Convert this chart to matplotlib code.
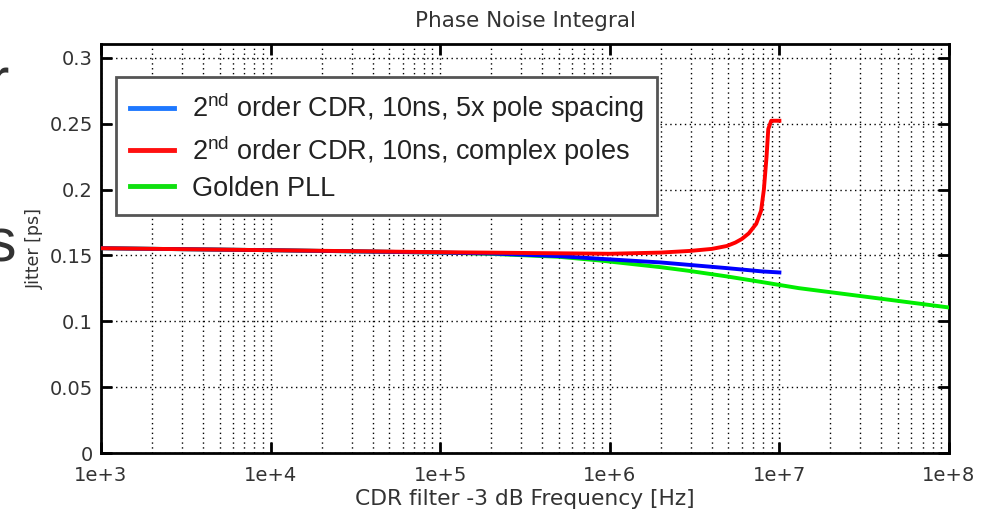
import matplotlib
matplotlib.use("Agg")
import matplotlib.pyplot as plt
from matplotlib.lines import Line2D
from matplotlib.ticker import FixedLocator, LogLocator, NullFormatter

plt.rcParams['mathtext.fontset'] = 'custom'
plt.rcParams['mathtext.rm'] = 'Liberation Sans'
plt.rcParams['mathtext.it'] = 'Liberation Sans'

# data
freq_blue = [1e3, 1e4, 1e5, 2e5, 5e5, 8.7e5, 2e6, 4.9e6, 7.9e6, 1e7]
jit_blue = [0.1555, 0.1540, 0.1522, 0.1515, 0.1495, 0.1475, 0.1447, 0.1404, 0.1379, 0.1371]

freq_red = [1e3, 1e4, 1e5, 1e6, 2e6, 3e6, 4e6, 4.9e6, 5.5e6, 6e6, 6.6e6, 7.3e6, 7.8e6,
            8.1e6, 8.4e6, 8.6e6, 8.95e6, 1e7]
jit_red = [0.1555, 0.1540, 0.1525, 0.1513, 0.1522, 0.1535, 0.1550, 0.1572, 0.1598,
           0.1625, 0.1668, 0.1740, 0.1840, 0.2000, 0.2250, 0.2460, 0.2523, 0.2523]

freq_green = [1e3, 1e4, 1e5, 2e5, 5e5, 8.7e5, 2e6, 2.9e6, 4.9e6, 7.9e6, 1.3e7, 3e7, 1e8]
jit_green = [0.1555, 0.1540, 0.1522, 0.1512, 0.1490, 0.1462, 0.1411, 0.1384, 0.1341,
             0.1298, 0.1252, 0.1192, 0.1105]

labels = ['2$^{\\rm nd}$ order CDR, 10ns, 5x pole spacing',
          '2$^{\\rm nd}$ order CDR, 10ns, complex poles',
          'Golden PLL']
y_ticks = [0, 0.05, 0.1, 0.15, 0.2, 0.25, 0.3]
y_ticklabels = ['0', '0.05', '0.1', '0.15', '0.2', '0.25', '0.3']
x_ticks = [1e3, 1e4, 1e5, 1e6, 1e7, 1e8]
x_ticklabels = ['1e+3', '1e+4', '1e+5', '1e+6', '1e+7', '1e+8']

fig = plt.figure(figsize=(9.96, 5.09), dpi=100)
ax = fig.add_axes([0.1014, 0.110, 0.8514, 0.8036])

ax.plot(freq_green, jit_green, color='#00ee00', lw=2.8, zorder=3)
ax.plot(freq_blue, jit_blue, color='#0000ff', lw=2.8, zorder=4)
ax.plot(freq_red, jit_red, color='#ff0000', lw=2.8, zorder=5)

ax.set_xscale('log')
ax.set_xlim(1e3, 1e8)
ax.set_ylim(0, 0.3106)
ax.xaxis.set_major_locator(FixedLocator(x_ticks))
ax.set_xticklabels(x_ticklabels)
ax.xaxis.set_minor_locator(LogLocator(base=10, subs=range(2, 10)))
ax.xaxis.set_minor_formatter(NullFormatter())
ax.set_yticks(y_ticks)
ax.set_yticklabels(y_ticklabels)

dots = (0, (1, 2.5))
ax.grid(True, which='major', axis='both', color='black', linestyle=dots, lw=1.0)
ax.grid(True, which='minor', axis='x', color='black', linestyle=dots, lw=1.0)

ax.tick_params(which='major', direction='in', length=8, width=2,
               top=True, right=True, labelsize=14, labelcolor='#333333')
ax.tick_params(axis='x', pad=9)
ax.tick_params(axis='y', pad=6)
ax.tick_params(which='minor', length=0)
for sp in ax.spines.values():
    sp.set_linewidth(2)

ax.set_title('Phase Noise Integral', fontsize=15.5, color='#333333', pad=12)
ax.set_xlabel('CDR filter -3 dB Frequency [Hz]', fontsize=15.7, color='#333333', labelpad=3)
ax.set_ylabel('Jitter [ps]', fontsize=12.5, color='#333333', labelpad=4)

handles = [Line2D([], [], color='#1e78ff', lw=3.5),
           Line2D([], [], color='#ff1010', lw=3.5),
           Line2D([], [], color='#10e010', lw=3.5)]
leg = ax.legend(handles, labels, loc='upper left', bbox_to_anchor=(0.0177, 0.919),
                borderaxespad=0, prop={'family': 'Liberation Sans', 'size': 19.5},
                fancybox=False, framealpha=1, edgecolor='#555555', handlelength=1.65,
                handletextpad=0.65, borderpad=0.5, labelspacing=0.3)
leg.get_frame().set_linewidth(2)
for t in leg.get_texts():
    t.set_color('#222222')

# cut-off letters of the slide at the left edge
fig.text(16 / 996, 1 - 262 / 509, 's', fontsize=44, color='#333333',
         ha='right', va='baseline', family='Liberation Sans')
fig.text(9 / 996, 1 - 100 / 509, 'r', fontsize=44, color='#333333',
         ha='right', va='baseline', family='Liberation Sans')

fig.savefig('out.png', dpi=100)
